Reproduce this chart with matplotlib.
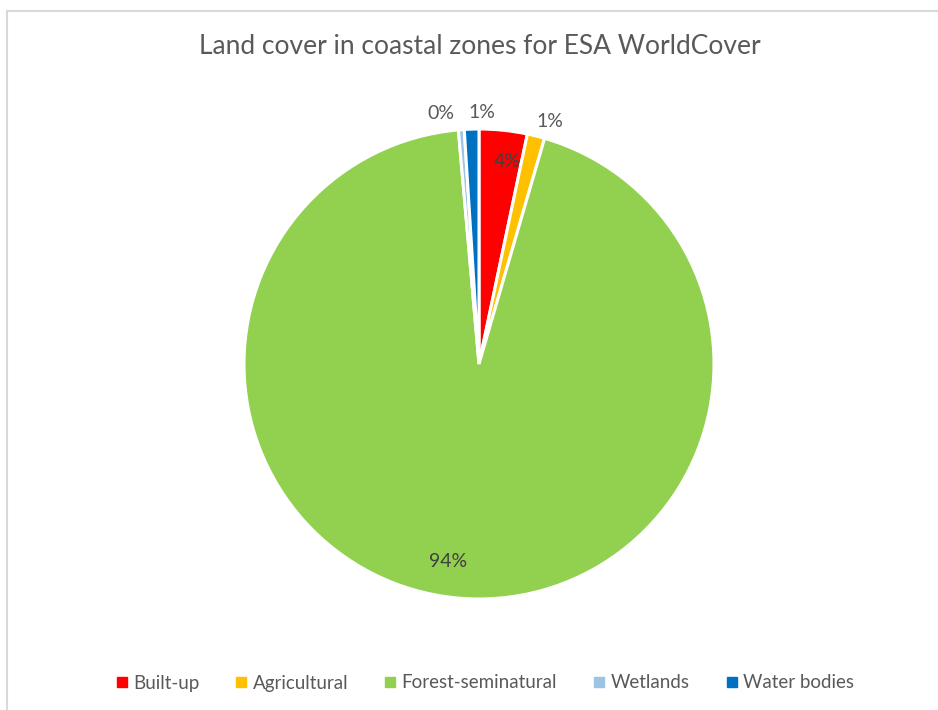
import numpy as np
import matplotlib
matplotlib.use("Agg")
import matplotlib.pyplot as plt
from matplotlib.lines import Line2D

categories = ["Built-up", "Agricultural", "Forest-seminatural", "Wetlands", "Water bodies"]
shares = [3.3, 1.2, 94.1, 0.4, 1.0]
pct_labels = ["4%", "1%", "94%", "0%", "1%"]
colors = ["#FF0000", "#FFC000", "#92D050", "#9DC3E6", "#0070C0"]

plt.rcParams["font.family"] = ["Lato", "DejaVu Sans"]
TEXT = "#595959"

fig = plt.figure(figsize=(9.38, 7.10), dpi=100)
W, H = 938, 710

# pie area: centre (479, 364), radius ~235 px
r_px = 235
ax = fig.add_axes([(479 - r_px) / W, 1 - (364 + r_px) / H, 2 * r_px / W, 2 * r_px / H])
wedges, _ = ax.pie(shares, colors=colors, startangle=90, counterclock=False,
                   wedgeprops=dict(edgecolor="white", linewidth=2.2))
ax.set_xlim(-1, 1)
ax.set_ylim(-1, 1)
ax.set_aspect("equal")

# label placement (excel "best fit"): angle in degrees and radius as fraction of pie
label_ang = [82.1, 73.6, -99.0, 98.6, 89.3]
label_r = [0.87, 1.075, 0.85, 1.08, 1.07]
label_col = ["#404040", TEXT, "#404040", TEXT, TEXT]
for lab, a, r, c in zip(pct_labels, label_ang, label_r, label_col):
    t = np.deg2rad(a)
    ax.text(r * np.cos(t), r * np.sin(t), lab, ha="center", va="center",
            fontsize=14, color=c)

fig.text(480 / W, 1 - 47 / H, "Land cover in coastal zones for ESA WorldCover",
         ha="center", va="center", fontsize=19, color=TEXT)

handles = [Line2D([], [], marker="s", linestyle="none", markersize=7,
                  markerfacecolor=c, markeredgecolor=c) for c in colors]
fig.legend(handles, categories, loc="center", bbox_to_anchor=(483 / W, 1 - 683 / H),
           ncol=5, frameon=False, fontsize=13.5, labelcolor=TEXT,
           handletextpad=0.1, columnspacing=1.75, handlelength=1.0)

# chart border (cropped)
fig.add_artist(Line2D([7 / W, 1], [1 - 11 / H, 1 - 11 / H], color="#D9D9D9", lw=1.5))
fig.add_artist(Line2D([7 / W, 7 / W], [0, 1 - 11 / H], color="#D9D9D9", lw=1.5))

fig.savefig("out.png", dpi=100, facecolor="white")
